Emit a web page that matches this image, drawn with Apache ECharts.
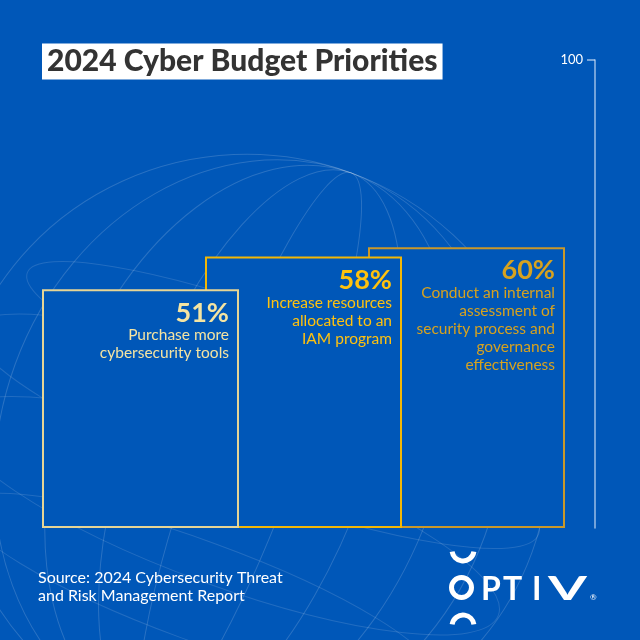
<!DOCTYPE html>
<html>
<head>
<meta charset="utf-8">
<script src="https://cdn.jsdelivr.net/npm/echarts@6/dist/echarts.min.js"></script>
<style>
  html, body { margin: 0; padding: 0; background: #0057b8; }
  #chart { width: 640px; height: 640px; }
</style>
</head>
<body>
<div id="chart"></div>
<script>
// data
var categories = ['Tools', 'IAM', 'Assessment'];
var values = [51, 58, 60];
var descriptions = [
  ['Purchase more', 'cybersecurity tools'],
  ['Increase resources', 'allocated to an', 'IAM program'],
  ['Conduct an internal', 'assessment of', 'security process and', 'governance', 'effectiveness']
];
var yTicks = [100];

var bg = '#0057b8';
var borderColors = ['#e6d595', '#f2b705', '#c9982a'];
var textColors = ['#f4e4a2', '#ffc20e', '#d6a21f'];
var font = 'Lato, "Noto Sans", sans-serif';

var chart = echarts.init(document.getElementById('chart'));

var series = values.map(function (v, i) {
  var data = categories.map(function (c, j) { return j === i ? v : '-'; });
  return {
    type: 'bar',
    name: categories[i],
    data: data,
    barWidth: 197,
    barGap: '-100%',
    clip: false,
    z: 10 - i,
    itemStyle: { color: bg, borderColor: borderColors[i], borderWidth: 2 },
    label: {
      show: true,
      position: 'insideTopRight',
      distance: 10,
      formatter: function () {
        return '{p|' + v + '%}\n' + descriptions[i].map(function (d) { return '{d|' + d + '}'; }).join('\n');
      },
      rich: {
        p: { fontFamily: font, fontWeight: 'bold', fontSize: 27, lineHeight: 27, color: textColors[i], align: 'right' },
        d: { fontFamily: font, fontSize: 15.5, lineHeight: 18, color: textColors[i], align: 'right' }
      }
    },
    emphasis: { disabled: true }
  };
});

// faint globe lines in the background
var globe = [];
[300, 250, 190, 120, 50].forEach(function (rx) {
  globe.push({
    type: 'ellipse', z: 0, silent: true,
    shape: { cx: 250, cy: 450, rx: rx, ry: 295 },
    rotation: -0.35, originX: 250, originY: 450,
    style: { fill: 'none', stroke: 'rgba(255,255,255,0.16)', lineWidth: 1 }
  });
});
[[250, 430, 300, 60], [250, 360, 270, 50], [250, 520, 290, 70], [250, 600, 250, 50]].forEach(function (e) {
  globe.push({
    type: 'ellipse', z: 0, silent: true,
    shape: { cx: e[0], cy: e[1], rx: e[2], ry: e[3] },
    rotation: -0.35, originX: 250, originY: 450,
    style: { fill: 'none', stroke: 'rgba(255,255,255,0.13)', lineWidth: 1 }
  });
});

var logoFont = 'bold 32px ' + font;
function letter(ch, x, sx) {
  return { type: 'text', x: x, y: 606, scaleX: sx || 1, style: { text: ch, fill: '#fff', font: logoFont, verticalAlign: 'bottom' } };
}
var logo = [
  { type: 'arc', shape: { cx: 463, cy: 550, r: 11, startAngle: 0.15, endAngle: Math.PI - 0.15 }, style: { fill: 'none', stroke: '#fff', lineWidth: 5 } },
  { type: 'circle', shape: { cx: 461.5, cy: 587.5, r: 10 }, style: { fill: 'none', stroke: '#fff', lineWidth: 5 } },
  { type: 'arc', shape: { cx: 463, cy: 626, r: 11, startAngle: Math.PI + 0.15, endAngle: Math.PI * 2 - 0.15 }, style: { fill: 'none', stroke: '#fff', lineWidth: 5 } },
  letter('P', 481),
  letter('T', 503),
  letter('I', 532),
  letter('V', 548, 1.75),
  { type: 'text', x: 590, y: 593, style: { text: '®', fill: '#fff', font: '8px ' + font } }
];

chart.setOption({
  backgroundColor: bg,
  animation: false,
  title: {
    text: '2024 Cyber Budget Priorities',
    left: 42, top: 44,
    backgroundColor: '#fff',
    padding: [3, 5, 3, 5],
    textStyle: { fontFamily: font, fontWeight: 900, fontSize: 30, color: '#333', lineHeight: 29 }
  },
  grid: { left: 59, right: 92, top: 60, bottom: 112 },
  xAxis: { type: 'category', data: categories, show: false },
  yAxis: {
    type: 'value', position: 'right', offset: 47,
    min: 0, max: 100, interval: 100,
    splitLine: { show: false },
    axisLine: { show: true, lineStyle: { color: 'rgba(220,232,250,0.7)', width: 1.5 } },
    axisTick: { show: true, inside: true, length: 8, customValues: yTicks, lineStyle: { color: 'rgba(220,232,250,0.7)', width: 1.5 } },
    axisLabel: { inside: true, margin: 12, customValues: yTicks, color: '#fff', fontFamily: font, fontSize: 13 }
  },
  graphic: globe.concat(logo).concat([
    {
      type: 'text', left: 38, top: 569,
      style: { text: 'Source: 2024 Cybersecurity Threat\nand Risk Management Report', fill: '#fff', font: '16px ' + font, lineHeight: 18 }
    }
  ]),
  series: series
});
</script>
</body>
</html>
